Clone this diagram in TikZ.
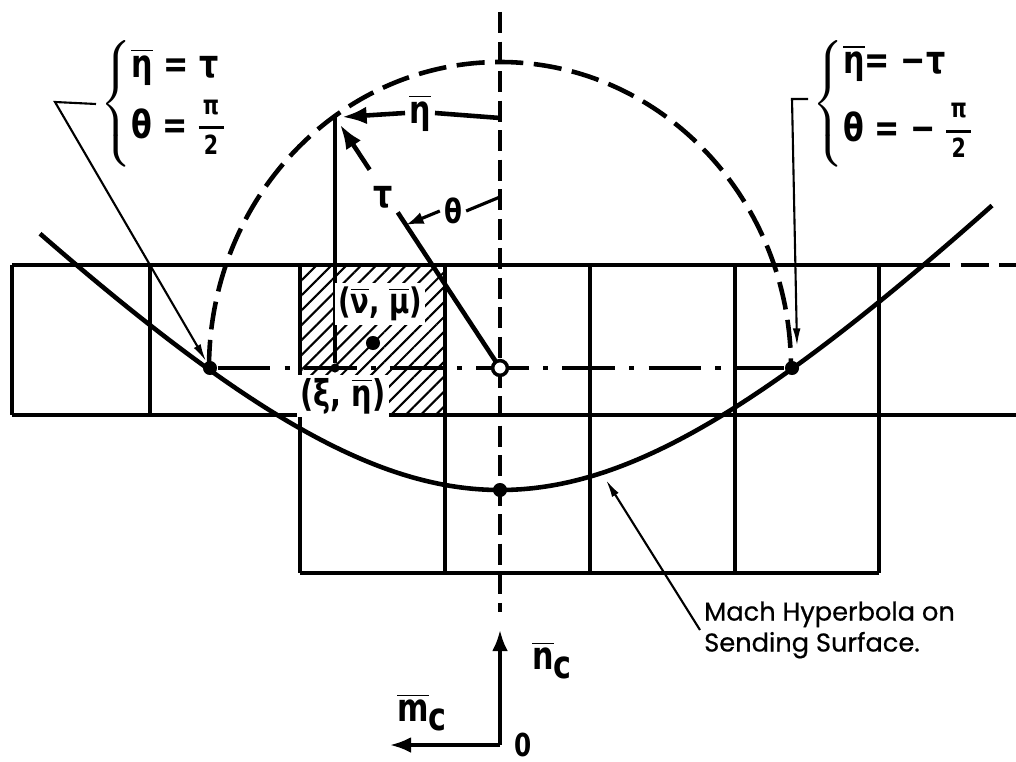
\documentclass[tikz,border=0pt]{standalone}
\usepackage{fontspec}
\setmainfont{DejaVu Sans}[FakeStretch=0.78]
\newfontfamily\machfont{Poppins}[FakeBold=0.6]
\usetikzlibrary{positioning, arrows.meta, patterns.meta, calc}

\newcommand{\ob}[1]{$\overline{\hbox{#1}}$}
\newcommand{\halfof}[1]{$\vcenter{\fontsize{7.5}{8}\selectfont\offinterlineskip
  \halign{\hfil##\hfil\cr\strut\,#1\,\cr\noalign{\kern1pt\hrule height 0.9pt\kern1.5pt}\strut 2\cr}}$}

\begin{document}
\begin{tikzpicture}[x=0.01cm, y=-0.01cm,
    every node/.style={font=\fontsize{11}{13}\selectfont\bfseries, inner sep=1pt},
    cell/.style={line width=1.3pt},
    leader/.style={line width=0.6pt},
    guide/.style={line width=1.2pt, dash pattern=on 6pt off 2.4pt},
    chain/.style={line width=1.2pt, dash pattern=on 15pt off 4pt on 1.5pt off 4pt},
    circ/.style={line width=1.3pt, dash pattern=on 8pt off 3pt},
    dot/.style={circle, fill, inner sep=0pt, minimum size=4pt},
    bold tip/.style={-{Latex[length=7pt, width=5pt]}},
    thin tip/.style={-{Latex[length=5pt, width=2.2pt]}}]
  \useasboundingbox (0,0) rectangle (1016,761);

  % hatched cell
  \fill[pattern={Lines[angle=45, distance=3pt, line width=0.6pt]}] (300,265) rectangle (445,415);

  % cells
  \draw[cell] (12,265) -- (922,265);
  \draw[cell, dash pattern=on 8pt off 3pt] (922,265) -- (1016,265);
  \draw[cell] (12,415) -- (1016,415);
  \draw[cell] (300,573) -- (879,573);
  \foreach \cx in {12,150} \draw[cell] (\cx,265) -- (\cx,415);
  \foreach \cx in {300,445,590,735,879} \draw[cell] (\cx,265) -- (\cx,573);

  % hyperbola, circle, centre line
  \draw[cell] plot[domain=-460:492, samples=80, smooth] ({500+\x}, {490-328*(sqrt(1+(\x/312)^2)-1)});
  \draw[circ] (209,368) arc[start angle=180, end angle=360, x radius=291, y radius=306];
  \draw[guide] (500,12) -- (500,612);

  \coordinate (o) at (500,368);
  \coordinate (top) at (335,117);
  \coordinate (axtop) at (500,118);
  \coordinate (thax) at (500,197);
  \coordinate (thP) at ($(o)!0.57!(top)$);

  \node[dot] (lpt) at (210,368) {};
  \node[dot] (rpt) at (792,368) {};
  \node[dot] (vtx) at (500,490) {};
  \node[dot] (nm) at (373,343) {};
  \node[dot, minimum size=2.6pt] (xi) at (335,368) {};

  \draw[chain] (lpt) -- (rpt);
  \draw[cell] (top) -- (xi);
  \draw[cell] (o) -- ($(o)!0.62!(top)$);
  \draw[cell, bold tip] ($(o)!0.79!(top)$) -- ($(o)!0.97!(top)$);
  \node[circle, draw, fill=white, line width=1pt, inner sep=0pt, minimum size=4.2pt] (ctr) at (o) {};

  \node (tau) at (383,197) {τ};
  \node[font=\fontsize{9.5}{11}\selectfont\bfseries] (th) at (453,211) {θ};
  \draw[line width=0.9pt, -{Latex[length=5pt, width=3.5pt]}] (th.west) -- (thP);
  \draw[line width=0.9pt] (th.east) -- (thax);

  \node (etad) at (420,113) {\ob{η}};
  \draw[cell, bold tip] (etad.west) -- ([xshift=2pt]top);
  \draw[cell] (etad.east) -- (axtop);

  \node[fill=white, font=\fontsize{10}{12}\selectfont\bfseries] (nmlbl) at (380,304) {(\ob{ν}, \ob{μ})};
  \node[fill=white, font=\fontsize{10.5}{12}\selectfont\bfseries] (xilbl) at (343,396) {(ξ, \ob{η})};

  % brace labels
  \node[anchor=west] (lbl) at (96,104) {$\left\{\vcenter{\hbox{\begin{tabular}{@{}l@{}}\ob{η} = τ\\[1pt]θ = \halfof{π}\end{tabular}}}\right.$};
  \coordinate (lknee) at ($(lbl.west)+(-41,-2)$);
  \draw[leader, thin tip] (lbl.west) -- (lknee) -- (lpt);

  \node[anchor=west] (rlbl) at (808,104) {$\left\{\vcenter{\hbox{\begin{tabular}{@{}l@{}}\ob{η}= −τ\\[3pt]θ = − \halfof{π}\end{tabular}}}\right.$};
  \coordinate (rknee) at ($(rlbl.west)+(-16,-5)$);
  \draw[leader, thin tip] ($(rlbl.west)+(0,-5)$) -- (rknee) -- ($(rpt)+(5,-22)$);

  \node[anchor=west, align=left, font=\machfont\fontsize{7.3}{8.8}\selectfont] (mach) at (700,630) {Mach Hyperbola on\\Sending Surface.};
  \coordinate (machtip) at (606,480);
  \draw[leader, thin tip] (mach.west) -- (machtip);

  % axes
  \coordinate (orig) at (500,745);
  \coordinate (ntip) at (500,630);
  \coordinate (mtip) at (390,745);
  \draw[line width=1pt, -{Latex[length=6pt, width=4.5pt]}] (orig) -- (ntip);
  \draw[line width=1pt, -{Latex[length=6pt, width=4.5pt]}] (orig) -- (mtip);
  \node (nc) at (553,660) {$\overline{\hbox{n}}_{\hbox{c}}$};
  \node (mc) at (423,712) {$\overline{\hbox{m}}_{\hbox{c}}$};
  \node[inner sep=0pt, font=\fontsize{9}{10}\selectfont\bfseries] (zero) at (523,745) {0};
\end{tikzpicture}
\end{document}
